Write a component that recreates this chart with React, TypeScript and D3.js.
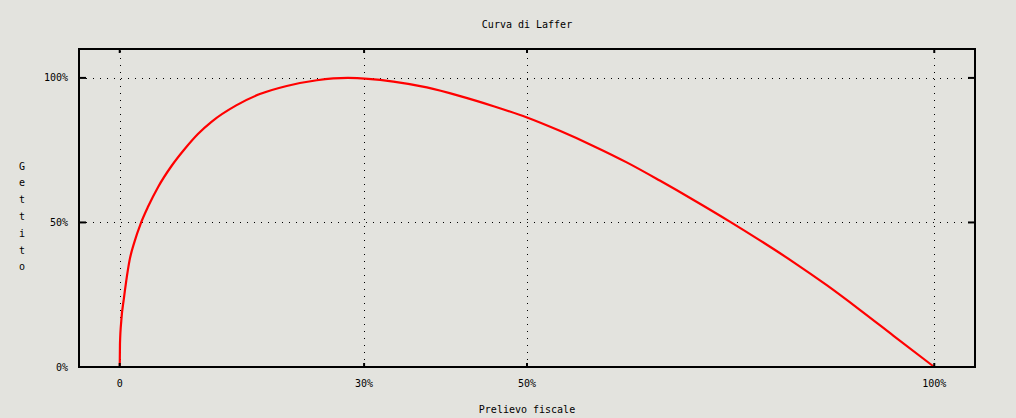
import { useEffect, useRef } from 'react';
import * as d3 from 'd3';

// tax rate (fraction)
const taxRate = [
  0, 0.0003, 0.002, 0.005, 0.008, 0.012, 0.018, 0.026, 0.035, 0.047, 0.064, 0.08,
  0.096, 0.113, 0.143, 0.172, 0.205, 0.242, 0.28, 0.336, 0.377, 0.418, 0.459, 0.5,
  0.541, 0.582, 0.623, 0.663, 0.705, 0.749, 0.786, 0.827, 0.868, 0.909, 0.95, 1.0,
];
// revenue (fraction of max)
const revenue = [
  0, 0.08, 0.163, 0.235, 0.298, 0.368, 0.432, 0.498, 0.556, 0.622, 0.697, 0.755,
  0.806, 0.849, 0.905, 0.944, 0.972, 0.992, 1.0, 0.987, 0.967, 0.937, 0.902, 0.863,
  0.816, 0.764, 0.707, 0.645, 0.577, 0.503, 0.438, 0.363, 0.283, 0.197, 0.108, 0,
];

const xTicks = [0, 0.3, 0.5, 1.0];
const xTickLabels = ['0', '30%', '50%', '100%'];
const yTicks = [0, 0.5, 1.0];
const yTickLabels = ['0%', '50%', '100%'];

const title = 'Curva di Laffer';
const xLabel = 'Prelievo fiscale';
const yLabel = 'Gettito';

const W = 1016;
const H = 418;
const FONT = '"DejaVu Sans Mono", monospace';

const LafferChart = () => {
  const svgRef = useRef<SVGSVGElement>(null);

  useEffect(() => {
    if (!svgRef.current) return;
    const svg = d3.select(svgRef.current);
    svg.selectAll('*').remove();

    const left = 79, right = 975, top = 49, bottom = 367;

    const x = d3.scaleLinear().domain([-0.05, 1.05]).range([left, right]);
    const y = d3.scaleLinear().domain([0, 1.1]).range([bottom, top]);

    svg.append('rect').attr('width', W).attr('height', H).attr('fill', '#e3e3de');

    // dotted grid
    const grid = svg.append('g')
      .attr('stroke', '#000')
      .attr('stroke-width', 1)
      .attr('stroke-dasharray', '1,6')
      .attr('shape-rendering', 'crispEdges');
    xTicks.forEach(t => {
      grid.append('line')
        .attr('x1', Math.round(x(t)) + 0.5).attr('x2', Math.round(x(t)) + 0.5)
        .attr('y1', bottom).attr('y2', top);
    });
    yTicks.forEach(t => {
      grid.append('line')
        .attr('x1', left).attr('x2', right)
        .attr('y1', Math.round(y(t)) + 0.5).attr('y2', Math.round(y(t)) + 0.5);
    });

    // curve
    const pts: [number, number][] = taxRate.map((t, i) => [t, revenue[i]]);
    const line = d3.line<[number, number]>()
      .x(d => x(d[0]))
      .y(d => y(d[1]))
      .curve(d3.curveMonotoneX);
    svg.append('path')
      .datum(pts)
      .attr('d', line)
      .attr('fill', 'none')
      .attr('stroke', '#ff0000')
      .attr('stroke-width', 2.2);

    // frame
    svg.append('rect')
      .attr('x', left).attr('y', top)
      .attr('width', right - left).attr('height', bottom - top)
      .attr('fill', 'none')
      .attr('stroke', '#000')
      .attr('stroke-width', 2);

    // ticks (mirrored, inward)
    const ticks = svg.append('g').attr('stroke', '#000').attr('stroke-width', 2);
    xTicks.forEach(t => {
      ticks.append('line').attr('x1', x(t)).attr('x2', x(t)).attr('y1', bottom).attr('y2', bottom - 4);
      ticks.append('line').attr('x1', x(t)).attr('x2', x(t)).attr('y1', top).attr('y2', top + 4);
    });
    yTicks.forEach(t => {
      ticks.append('line').attr('x1', left).attr('x2', left + 7).attr('y1', y(t)).attr('y2', y(t));
      ticks.append('line').attr('x1', right).attr('x2', right - 7).attr('y1', y(t)).attr('y2', y(t));
    });

    const txt = svg.append('g')
      .attr('font-family', FONT)
      .attr('font-size', 10)
      .attr('fill', '#000');

    xTicks.forEach((t, i) => {
      txt.append('text')
        .attr('x', x(t)).attr('y', 383)
        .attr('text-anchor', 'middle')
        .attr('dominant-baseline', 'central')
        .text(xTickLabels[i]);
    });
    yTicks.forEach((t, i) => {
      txt.append('text')
        .attr('x', 68).attr('y', y(t))
        .attr('text-anchor', 'end')
        .attr('dominant-baseline', 'central')
        .text(yTickLabels[i]);
    });

    txt.append('text')
      .attr('x', (left + right) / 2).attr('y', 24)
      .attr('text-anchor', 'middle')
      .attr('dominant-baseline', 'central')
      .text(title);

    txt.append('text')
      .attr('x', (left + right) / 2).attr('y', 409)
      .attr('text-anchor', 'middle')
      .attr('dominant-baseline', 'central')
      .text(xLabel);

    // vertical label, one letter per line
    yLabel.split('').forEach((c, i) => {
      txt.append('text')
        .attr('x', 22).attr('y', 166 + i * 16.8)
        .attr('text-anchor', 'middle')
        .attr('dominant-baseline', 'central')
        .text(c);
    });
  }, []);

  return (
    <svg
      ref={svgRef}
      width={W}
      height={H}
      style={{ position: 'absolute', left: 0, top: 0, display: 'block' }}
    />
  );
};

export default function App() {
  return <LafferChart />;
}
